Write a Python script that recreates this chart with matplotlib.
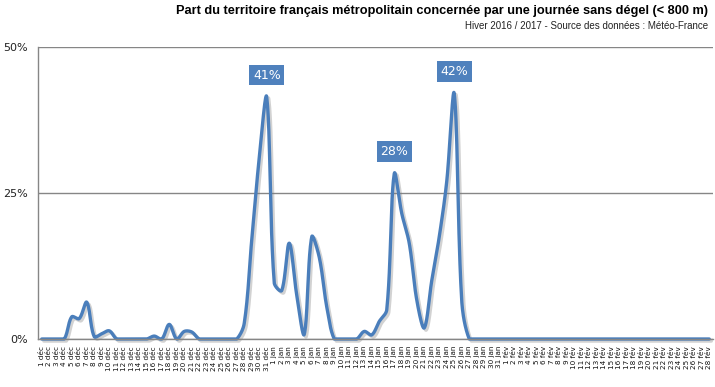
import matplotlib as mpl
mpl.use('Agg')
import matplotlib.pyplot as plt
import matplotlib.patheffects as pe
from matplotlib import font_manager
import numpy as np

# days of winter 2016/2017
months = [('déc', 31), ('jan', 31), ('fév', 28)]
day_labels = ['{} {}'.format(d, m) for m, n in months for d in range(1, n + 1)]

# share of the territory (%) with a day without thaw
dec_values = [0, 0, 0, 0, 3.8, 3.5, 6.3, 0.4, 0.9, 1.4,
              0, 0, 0, 0, 0, 0.5, 0, 2.5, 0, 1.3,
              1.2, 0, 0, 0, 0, 0, 0, 2.7, 17, 31, 41.4]
jan_values = [9.6, 8.3, 16.4, 7.5, 0.8, 17.5, 14, 5.5, 0, 0,
              0, 0, 1.3, 0.7, 3, 5, 28.3, 21.5, 16.4, 6.7,
              1.9, 10, 17.5, 27, 42, 6.5, 0, 0, 0, 0, 0]
feb_values = [0] * 28
values = dec_values + jan_values + feb_values

# days that carry a value label
labelled_days = ['31 déc', '17 jan', '25 jan']

title = 'Part du territoire français métropolitain concernée par une journée sans dégel (< 800 m)'
subtitle = 'Hiver 2016 / 2017 - Source des données : Météo-France'

line_color = '#4A7EBB'
grid_color = '#868686'

installed = {f.name for f in font_manager.fontManager.ttflist}
head_font = 'Liberation Sans Narrow' if 'Liberation Sans Narrow' in installed else 'Liberation Sans'


def smooth(ys, sx, sy, n=24):
    # bezier curve through the points, tangents scaled by segment lengths
    # (roughly what a spreadsheet "smoothed line" does)
    y = np.asarray(ys, float)
    x = np.arange(len(y), dtype=float)
    P = np.column_stack([x, y])
    Q = np.vstack([P[0], P, P[-1]])
    t = np.linspace(0, 1, n, endpoint=False)[:, None]
    pts = []
    for i in range(len(P) - 1):
        p0, p1, p2, p3 = Q[i], Q[i+1], Q[i+2], Q[i+3]
        d = lambda a, b: np.hypot((b[0]-a[0])*sx, (b[1]-a[1])*sy)
        d01, d12, d23 = d(p0, p1), d(p1, p2), d(p2, p3)
        f1 = d12 / (d01 + d12) if d01 + d12 > 0 else 0
        f2 = d12 / (d12 + d23) if d12 + d23 > 0 else 0
        c1 = p1 + (p2 - p0) * f1 / 3
        c2 = p2 - (p3 - p1) * f2 / 3
        b = (1-t)**3*p1 + 3*(1-t)**2*t*c1 + 3*(1-t)*t**2*c2 + t**3*p2
        pts.append(b)
    pts.append(P[-1][None, :])
    pts = np.vstack(pts)
    return pts[:, 0], np.maximum(pts[:, 1], 0)


W, H = 715, 387
fig = plt.figure(figsize=(W/100, H/100), dpi=100)
ax = fig.add_axes([38/W, 48/H, 675/W, 292/H])
ax.set_xlim(-0.5, len(values) - 0.5)
ax.set_ylim(0, 50)

# pixel size of one day / one percent, for the smoothing
px_x = 675 / len(values)
px_y = 292 / 50
cx, cy = smooth(values, px_x, px_y)
ax.plot(cx, cy, color=line_color, lw=2.4, clip_on=False, solid_capstyle='round',
        solid_joinstyle='round',
        path_effects=[pe.SimpleLineShadow(offset=(1.5, -1.5), shadow_color='#7f7f7f', alpha=0.35),
                      pe.Normal()])

for lab in labelled_days:
    i = day_labels.index(lab)
    ax.annotate('{:.0f}%'.format(values[i]), (i, values[i]), xytext=(0, 16),
                textcoords='offset points', ha='center', va='center',
                color='white', fontsize=9,
                bbox=dict(boxstyle='square,pad=0.3', fc='#4F81BD', ec='none'))

ax.set_yticks([0, 25, 50])
ax.set_yticklabels(['0%', '25%', '50%'], fontsize=8, color='#222222')
ax.set_xticks(range(len(values)))
ax.set_xticklabels(day_labels, rotation=90, fontsize=5.2, color='#111111')
ax.tick_params(axis='both', length=0)
ax.tick_params(axis='y', pad=7)
ax.tick_params(axis='x', pad=5)

ax.yaxis.grid(True, color=grid_color, lw=1)
ax.set_axisbelow(True)
for side in ['top', 'right']:
    ax.spines[side].set_visible(False)
for side in ['left', 'bottom']:
    ax.spines[side].set_color(grid_color)
    ax.spines[side].set_linewidth(1)

t1 = fig.text(708/W, 1 - 11/H, title, ha='right', va='center', fontsize=8,
              fontweight='bold', family=head_font)
t2 = fig.text(708/W, 1 - 26/H, subtitle, ha='right', va='center', fontsize=8,
              family=head_font, color='#222222')

# bring the header texts close to the widths they take in the original
r = fig.canvas.get_renderer()
for txt, target, smallest in ((t1, 535, 7), (t2, 215, 7)):
    w = txt.get_window_extent(r).width
    txt.set_fontsize(max(txt.get_fontsize() * target / w, smallest))

fig.savefig('out.png', dpi=100)
